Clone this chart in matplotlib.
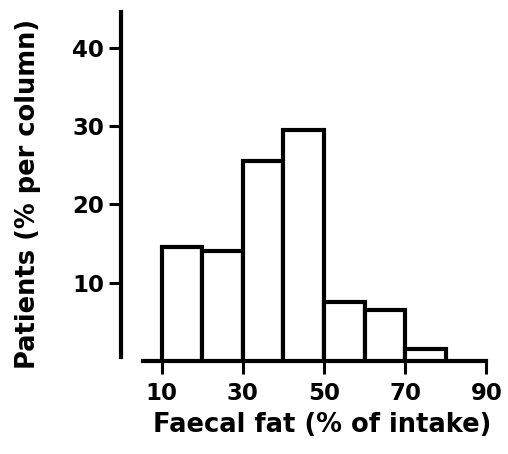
import matplotlib
matplotlib.use("Agg")
import matplotlib.pyplot as plt

bin_edges = [10, 20, 30, 40, 50, 60, 70]
bin_width = 10
percent = [14.5, 14.0, 25.5, 29.5, 7.5, 6.5, 1.5]
xticks = [10, 30, 50, 70, 90]
yticks = [10, 20, 30, 40]
xlabel = "Faecal fat (% of intake)"
ylabel = "Patients (% per column)"

plt.rcParams['font.family'] = ['DejaVu Sans']
fig = plt.figure(figsize=(5.08, 4.54), dpi=100)
ax = fig.add_axes([121/508, 1 - 361/454, (490.5 - 121)/508, (361 - 8.6)/454])
ax.set_xlim(0, 91)
ax.set_ylim(0, 45)

ax.bar(bin_edges, percent, width=bin_width, align='edge', facecolor='white',
       edgecolor='black', linewidth=3.0, zorder=3)

for s in ['top', 'right']:
    ax.spines[s].set_visible(False)
ax.spines['left'].set_linewidth(3.0)
ax.spines['bottom'].set_linewidth(3.0)
ax.spines['left'].set_bounds(0.5, 44.6)
ax.spines['bottom'].set_bounds(5.5, 90)

ax.set_xticks(xticks)
ax.set_yticks(yticks)
ax.tick_params(axis='both', direction='out', length=9, width=2.2, labelsize=16.5)
ax.tick_params(axis='x', pad=6)
ax.tick_params(axis='y', pad=3)
for lab in ax.get_xticklabels() + ax.get_yticklabels():
    lab.set_fontweight('bold')

fig.text(322/508, 1 - 425/454, xlabel, ha='center', va='center', fontsize=18.5, fontweight='bold')
fig.text(28/508, 1 - 194/454, ylabel, ha='center', va='center', rotation=90, fontsize=18.5, fontweight='bold')

fig.savefig("out.png", dpi=100)
